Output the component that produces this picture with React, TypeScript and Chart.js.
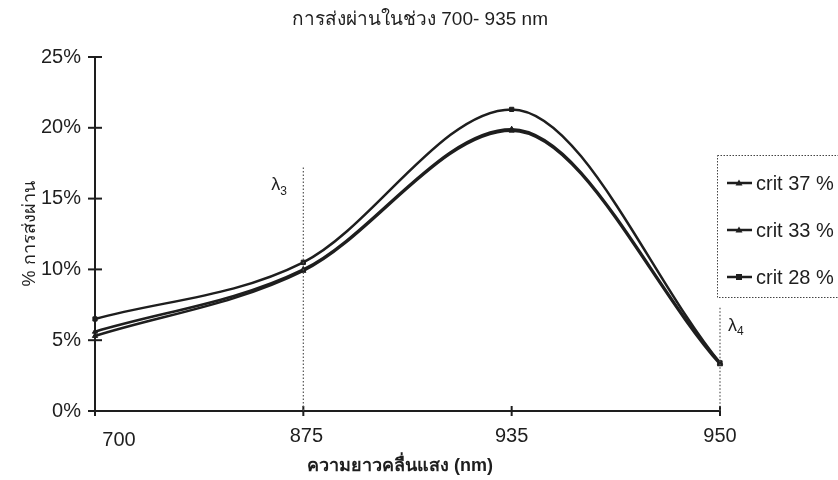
import React, { useEffect, useRef } from 'react';
import { Chart, registerables } from 'chart.js';

Chart.register(...registerables);

const titleText = 'การส่งผ่านในช่วง 700- 935 nm';
const xTitle = 'ความยาวคลื่นแสง (nm)';
const yTitle = '% การส่งผ่าน';
const categories = ['700', '875', '935', '950'];
const seriesNames = ['crit 37 %', 'crit 33 %', 'crit 28 %'];
const crit37 = [5.3, 9.9, 19.8, 3.3];
const crit33 = [5.6, 10.0, 19.9, 3.4];
const crit28 = [6.5, 10.5, 21.3, 3.4];
const yTicks = [0, 5, 10, 15, 20, 25];
const guideCategories = ['875', '950'];
const guideSubs = ['3', '4'];
const guideTops = [17.2, 7.3];

const FONT = "'Liberation Sans', Arial, 'Noto Sans', sans-serif";
const INK = '#1e1e1e';

const overlay = {
  id: 'overlay',
  afterDraw(chart: any) {
    const { ctx, chartArea } = chart;
    const xs = chart.scales.x;
    const ys = chart.scales.y;
    ctx.save();
    // title
    ctx.fillStyle = INK;
    ctx.textAlign = 'center';
    ctx.textBaseline = 'middle';
    ctx.font = `19px ${FONT}`;
    ctx.fillText(titleText, 420, 20);
    // x category labels
    ctx.font = `20px ${FONT}`;
    categories.forEach((c, i) => {
      const x = xs.getPixelForValue(i);
      const dx = i === 0 ? 24 : i === 1 ? 3 : 0;
      const dy = i === 0 ? 440 : 436;
      ctx.fillText(c, x + dx, dy);
    });
    // x title
    ctx.font = `bold 18px ${FONT}`;
    ctx.fillText(xTitle, 400, 466);
    // y title
    ctx.save();
    ctx.translate(30, 234);
    ctx.rotate(-Math.PI / 2);
    ctx.font = `18px ${FONT}`;
    ctx.fillText(yTitle, 0, 0);
    ctx.restore();
    // crossing ticks
    ctx.strokeStyle = INK;
    ctx.lineWidth = 2;
    yTicks.forEach((v) => {
      const y = ys.getPixelForValue(v);
      ctx.beginPath();
      ctx.moveTo(chartArea.left - 7, y);
      ctx.lineTo(chartArea.left + 7, y);
      ctx.stroke();
    });
    categories.forEach((c, i) => {
      const x = xs.getPixelForValue(i);
      ctx.beginPath();
      ctx.moveTo(x, chartArea.bottom - 5);
      ctx.lineTo(x, chartArea.bottom + 5);
      ctx.stroke();
    });
    // guides
    guideCategories.forEach((c, i) => {
      const x = xs.getPixelForValue(categories.indexOf(c));
      const yTop = ys.getPixelForValue(guideTops[i]);
      ctx.save();
      ctx.strokeStyle = '#555';
      ctx.lineWidth = 1.2;
      ctx.setLineDash([1.5, 2]);
      ctx.beginPath();
      ctx.moveTo(x, yTop);
      ctx.lineTo(x, chartArea.bottom);
      ctx.stroke();
      ctx.restore();
      const lx = i === 0 ? x - 32 : x + 8;
      const ly = yTop + 18;
      ctx.textAlign = 'left';
      ctx.font = `18px ${FONT}`;
      ctx.fillText('λ', lx, ly);
      const w = ctx.measureText('λ').width;
      ctx.font = `12px ${FONT}`;
      ctx.fillText(guideSubs[i], lx + w, ly + 6);
    });
    // legend
    ctx.save();
    ctx.strokeStyle = '#444';
    ctx.lineWidth = 1;
    ctx.setLineDash([1.5, 1.5]);
    ctx.strokeRect(717.5, 155.5, 130, 142);
    ctx.restore();
    chart.data.datasets.forEach((ds: any, i: number) => {
      const y = 183 + i * 47;
      ctx.strokeStyle = INK;
      ctx.lineWidth = 2.5;
      ctx.beginPath();
      ctx.moveTo(727, y);
      ctx.lineTo(752, y);
      ctx.stroke();
      ctx.fillStyle = INK;
      if (ds.pointStyle === 'rect') {
        ctx.fillRect(736, y - 3, 6, 6);
      } else {
        ctx.beginPath();
        ctx.moveTo(739, y - 3.5);
        ctx.lineTo(742.5, y + 2.5);
        ctx.lineTo(735.5, y + 2.5);
        ctx.closePath();
        ctx.fill();
      }
      ctx.textAlign = 'left';
      ctx.textBaseline = 'middle';
      ctx.font = `20px ${FONT}`;
      ctx.fillText(ds.label, 756, y + 1);
    });
    ctx.restore();
  },
};

export default function App() {
  const ref = useRef<HTMLCanvasElement>(null);
  useEffect(() => {
    if (!ref.current) return;
    const mk = (label: string, data: number[], pointStyle: string) => ({
      label,
      data,
      borderColor: INK,
      backgroundColor: INK,
      borderWidth: 2.5,
      pointStyle,
      pointRadius: 3,
      pointBorderWidth: 1,
      cubicInterpolationMode: 'monotone' as const,
      clip: false as any,
    });
    const chart = new Chart(ref.current, {
      type: 'line',
      data: {
        labels: categories,
        datasets: [
          mk(seriesNames[0], crit37, 'triangle'),
          mk(seriesNames[1], crit33, 'triangle'),
          mk(seriesNames[2], crit28, 'rect'),
        ],
      },
      options: {
        responsive: false,
        animation: false,
        layout: { padding: { left: 0, top: 57, right: 118, bottom: 0 } },
        plugins: { legend: { display: false }, title: { display: false }, tooltip: { enabled: false } },
        scales: {
          x: {
            type: 'category',
            offset: false,
            grid: { display: false, drawTicks: false },
            border: { display: true, color: INK, width: 2 },
            ticks: { display: false, autoSkip: false },
            afterFit: (s: any) => { s.height = 69; },
          },
          y: {
            min: 0,
            max: 25,
            grid: { display: false, drawTicks: false },
            border: { display: true, color: INK, width: 2 },
            ticks: {
              stepSize: 5,
              color: INK,
              font: { family: FONT, size: 20 },
              padding: 14,
              callback: (v: any) => `${v}%`,
            },
            afterFit: (s: any) => { s.width = 95; },
          },
        },
      },
      plugins: [overlay],
    });
    return () => chart.destroy();
  }, []);
  return (
    <div style={{ position: 'absolute', left: 0, top: 0, width: 838, height: 480, background: '#fff' }}>
      <canvas ref={ref} width={838} height={480} />
    </div>
  );
}
